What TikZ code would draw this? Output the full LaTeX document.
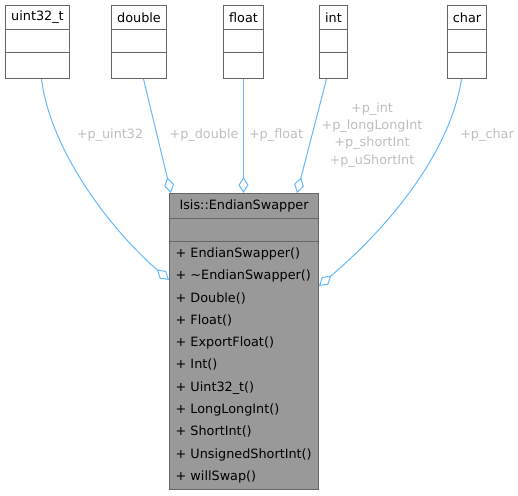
\documentclass[tikz,border=0pt]{standalone}
\usepackage{fontspec}
\setmainfont{DejaVu Sans}
\usetikzlibrary{arrows.meta, calc}
\definecolor{boxgrey}{HTML}{666666}
\definecolor{mainfill}{HTML}{999999}
\definecolor{edgeblue}{HTML}{63B8FF}
\definecolor{labgrey}{HTML}{BEBEBE}
\newcommand{\typebox}[4]{%
  \node[typebox=#3pt] (#1) at (#2,5) {};
  \node (#1-name) at ($(#1.north)+(0,12.5)$) {#4};
  \draw[sep] ($(#1.north west)+(0,25)$) -- ($(#1.north east)+(0,25)$);
  \draw[sep] ($(#1.north west)+(0,47)$) -- ($(#1.north east)+(0,47)$);
}
\tikzset{
  font=\fontsize{12.8}{15}\selectfont,
  typebox/.style={
    draw=boxgrey, fill=white, line width=1pt, inner sep=0pt,
    anchor=north west, minimum height=73pt, minimum width=#1
  },
  mainbox/.style={
    draw=boxgrey, fill=mainfill, line width=1pt, inner sep=0pt,
    anchor=north west, minimum width=149pt, minimum height=296pt
  },
  sep/.style={draw=boxgrey, line width=1pt},
  ops/.style={
    anchor=north west, inner sep=0pt, align=left,
    font=\fontsize{12.8}{22.3}\selectfont
  },
  member/.style={
    draw=edgeblue, line width=1pt,
    -{Diamond[open, length=16pt, width=10pt]}
  },
  rolelab/.style={text=labgrey, align=center, inner sep=0pt}
}

\begin{document}
\begin{tikzpicture}[x=1pt, y=-1pt]
  \useasboundingbox (0,0) rectangle (518,495);
  \typebox{uint}{5}{64}{uint32\_t}
  \typebox{dbl}{111}{55}{double}
  \typebox{flt}{223}{40}{float}
  \typebox{int}{319}{28}{int}
  \typebox{chr}{447}{39}{char}
  \node[mainbox] (main) at (169,193) {};
  \node (main-name) at ($(main.north)+(0,12.5)$) {Isis::EndianSwapper};
  \draw[sep] ($(main.north west)+(0,25)$) -- ($(main.north east)+(0,25)$);
  \draw[sep] ($(main.north west)+(0,48)$) -- ($(main.north east)+(0,48)$);
  \node[ops] (main-ops) at ($(main.north west)+(6.5,54.5)$)
    {+ EndianSwapper()\\+ \textasciitilde EndianSwapper()\\+ Double()\\+ Float()\\
     + ExportFloat()\\+ Int()\\+ Uint32\_t()\\+ LongLongInt()\\+ ShortInt()\\
     + UnsignedShortInt()\\+ willSwap()};
  \node[rolelab] (lab-uint) at (110,135) {+p\_uint32};
  \node[rolelab] (lab-dbl) at (204,135) {+p\_double};
  \node[rolelab] (lab-flt) at (276,135) {+p\_float};
  \node[rolelab, font=\fontsize{12.8}{17.2}\selectfont] (lab-int) at (372,135)
    {+p\_int\\+p\_longLongInt\\+p\_shortInt\\+p\_uShortInt};
  \node[rolelab] (lab-chr) at (487,135) {+p\_char};
  \draw[member] ([xshift=4pt]uint.south) .. controls +(9,72) and +(-58,-50) .. ($(main.north west)+(0,87)$);
  \draw[member] ([xshift=4.5pt]dbl.south) -- ($(main.north west)+(2,0)$);
  \draw[member] (flt.south) -- (flt.south |- main.north);
  \draw[member] ([xshift=-7pt]int.south) -- ($(main.north west)+(128,0)$);
  \draw[member] ([xshift=-5.5pt]chr.south) .. controls +(-11,72) and +(72,-61) .. ($(main.north east)+(0,93)$);
\end{tikzpicture}
\end{document}
